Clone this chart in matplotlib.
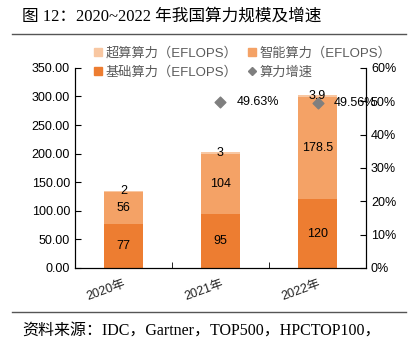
import numpy as np
import matplotlib.pyplot as plt
from matplotlib.lines import Line2D

plt.rcParams['font.family'] = ['Liberation Sans', 'Noto Sans CJK SC']

# Data
years = ["2020年", "2021年", "2022年"]
basic = [77, 95, 120]
smart = [56, 104, 178.5]
super_ = [2, 3, 3.9]
growth_years = [1, 2]
growth = [49.63, 49.56]

c_basic = "#ED7D31"
c_smart = "#F4A266"
c_super = "#F8C7A2"
c_growth = "#7F7F7F"

fig = plt.figure(figsize=(4.16, 3.48), dpi=100)
ax = fig.add_axes([0.180, 0.230, 0.700, 0.575])
x = np.arange(len(years))
w = 0.4

ax.bar(x, basic, w, color=c_basic)
ax.bar(x, smart, w, bottom=basic, color=c_smart)
bot2 = np.array(basic) + np.array(smart)
ax.bar(x, super_, w, bottom=bot2, color=c_super)

for i in range(len(years)):
    ax.text(x[i], basic[i] / 2, f"{basic[i]:g}", ha="center", va="center", fontsize=9)
    ax.text(x[i], basic[i] + smart[i] / 2, f"{smart[i]:g}", ha="center", va="center", fontsize=9)
    ax.text(x[i], bot2[i] + super_[i] / 2 + 1, f"{super_[i]:g}", ha="center", va="center", fontsize=9)

ax.set_xlim(-0.5, 2.5)
ax.set_ylim(0, 350)
ax.set_yticks(np.arange(0, 351, 50))
ax.set_yticklabels([f"{v:.2f}" for v in np.arange(0, 351, 50)], fontsize=9)
ax.set_xticks(x)
ax.set_xticklabels(years, fontsize=9, rotation=20, color="#222222",
                   ha="right", rotation_mode="anchor")
ax.set_xticks([0.5, 1.5], minor=True)
ax.tick_params(axis="x", which="major", length=0, pad=7)
ax.tick_params(axis="x", which="minor", direction="in", length=4)
ax.tick_params(axis="y", direction="in", length=4)
ax.spines["top"].set_visible(False)

ax2 = ax.twinx()
ax2.set_ylim(0, 60)
ax2.set_yticks(np.arange(0, 61, 10))
ax2.set_yticklabels([f"{v}%" for v in range(0, 61, 10)], fontsize=9)
ax2.tick_params(axis="y", direction="in", length=4)
ax2.spines["top"].set_visible(False)
ax2.scatter(growth_years, growth, marker="D", s=30, color=c_growth, zorder=5)
for xi, g in zip(growth_years, growth):
    ax2.text(xi + 0.17, g, f"{g:.2f}%", ha="left", va="center", fontsize=9)

handles = [
    Line2D([], [], marker="s", ls="", color=c_super, markersize=6),
    Line2D([], [], marker="s", ls="", color=c_basic, markersize=6),
    Line2D([], [], marker="s", ls="", color=c_smart, markersize=6),
    Line2D([], [], marker="D", ls="", color=c_growth, markersize=4),
]
labels = ["超算算力（EFLOPS）", "基础算力（EFLOPS）", "智能算力（EFLOPS）", "算力增速"]
fig.legend(handles, labels, ncol=2, loc="upper left", bbox_to_anchor=(0.19, 0.898),
           frameon=False, fontsize=9.5, labelcolor="#595959", handletextpad=0.1,
           columnspacing=0.6, labelspacing=0.45, handlelength=1.0)

fig.text(0.053, 0.952, "图 12：2020~2022 年我国算力规模及增速", fontsize=12,
         family=["Liberation Serif", "Noto Sans CJK SC"], va="center")
fig.add_artist(Line2D([0.03, 0.975], [0.902, 0.902], color="#555555", lw=1))
fig.add_artist(Line2D([0.03, 0.975], [0.103, 0.103], color="#555555", lw=1))
fig.text(0.053, 0.050, "资料来源：IDC，Gartner，TOP500，HPCTOP100，", fontsize=11.5,
         family=["Liberation Serif", "Noto Sans CJK SC"], va="center")

fig.savefig("out.png", dpi=100)
